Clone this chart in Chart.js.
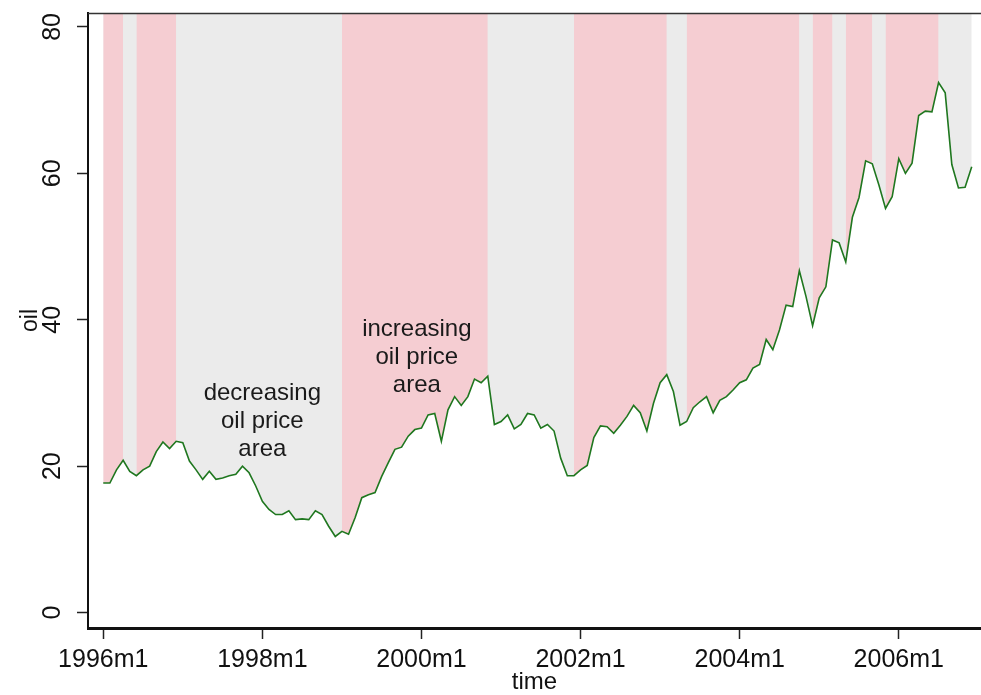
<!DOCTYPE html>
<html>
<head>
<meta charset="utf-8">
<script src="https://cdn.jsdelivr.net/npm/chart.js@4.4.0/dist/chart.umd.min.js"></script>
<style>body{margin:0;background:#fff}</style>
</head>
<body>
<canvas id="canv" width="981" height="695"></canvas>
<script>
// monthly oil price, 1996m1 .. 2006m12 (month index 0..131)
var oil = [
  17.7, 17.7, 19.5, 20.8, 19.3, 18.7, 19.5, 20.0, 22.0, 23.3, 22.4, 23.4,
  23.2, 20.7, 19.5, 18.2, 19.3, 18.2, 18.4, 18.7, 18.9, 20.0, 19.1, 17.3,
  15.2, 14.1, 13.4, 13.4, 13.9, 12.7, 12.8, 12.7, 13.9, 13.4, 11.8, 10.4,
  11.1, 10.7, 13.0, 15.7, 16.1, 16.4, 18.6, 20.5, 22.3, 22.6, 24.1, 25.0,
  25.2, 27.0, 27.2, 23.4, 27.7, 29.5, 28.3, 29.5, 31.9, 31.4, 32.3, 25.7,
  26.1, 27.0, 25.1, 25.7, 27.2, 27.0, 25.2, 25.7, 24.8, 21.1, 18.7, 18.7,
  19.5, 20.1, 23.9, 25.5, 25.4, 24.5, 25.6, 26.8, 28.3, 27.3, 24.8, 28.6,
  31.4, 32.5, 30.2, 25.6, 26.1, 28.0, 28.8, 29.5, 27.3, 29.0, 29.5, 30.4,
  31.4, 31.8, 33.4, 33.9, 37.3, 35.9, 38.6, 42.0, 41.8, 46.7, 43.2, 39.2,
  43.0, 44.5, 50.9, 50.5, 47.9, 54.0, 56.7, 61.7, 61.3, 58.4, 55.2, 56.8,
  62.0, 60.0, 61.4, 67.9, 68.5, 68.4, 72.4, 71.0, 61.2, 58.0, 58.1, 60.9
];
// month index spans of the "increasing oil price" areas (pink); the rest is grey
var increasingSpans = [[0,3],[5,11],[36,58],[71,85],[88,105],[107,110],[112,116],[118,126]];
var startYear = 1996;
var xTicks = [0, 24, 48, 72, 96, 120];
var yTicks = [0, 20, 40, 60, 80];
// text notes, placed at (month, value) of their middle line
var noteLines = [["decreasing", "oil price", "area"], ["increasing", "oil price", "area"]];
var noteMonth = [24, 47.3];
var noteValue = [26.1, 34.8];

var FONT = '"Liberation Sans", Arial, sans-serif';

function monthLabel(m){
  return (startYear + Math.floor(m / 12)) + "m" + (m % 12 + 1);
}

var oilPts = oil.map(function(v, i){ return {x: i, y: v}; });
var upPts = oil.map(function(v, i){
  var inside = increasingSpans.some(function(s){ return i >= s[0] && i <= s[1]; });
  return {x: i, y: inside ? v : null};
});

// top frame line + the two text notes
var extras = {
  id: 'extras',
  afterDatasetsDraw: function(chart){
    var ctx = chart.ctx, a = chart.chartArea;
    var sx = chart.scales.x, sy = chart.scales.y;
    ctx.save();
    ctx.strokeStyle = '#333';
    ctx.lineWidth = 1.5;
    ctx.beginPath();
    ctx.moveTo(a.left, a.top + 0.5);
    ctx.lineTo(a.right, a.top + 0.5);
    ctx.stroke();
    ctx.fillStyle = '#1a1a1a';
    ctx.font = '24px ' + FONT;
    ctx.textAlign = 'center';
    ctx.textBaseline = 'middle';
    for (var k = 0; k < noteLines.length; k++){
      var cx = sx.getPixelForValue(noteMonth[k]);
      var cy = sy.getPixelForValue(noteValue[k]);
      for (var j = 0; j < noteLines[k].length; j++){
        ctx.fillText(noteLines[k][j], cx, cy + (j - 1) * 28);
      }
    }
    ctx.restore();
  }
};

new Chart(document.getElementById('canv'), {
  type: 'line',
  data: {
    datasets: [
      {label: 'oil', data: oilPts, borderColor: '#1f771f', borderWidth: 1.6,
       pointRadius: 0, fill: false, tension: 0, order: 0},
      {label: 'increasing', data: upPts, borderColor: 'transparent', borderWidth: 0,
       backgroundColor: '#f5cdd2', pointRadius: 0, fill: 'end', spanGaps: false, order: 1},
      {label: 'decreasing', data: oilPts, borderColor: 'transparent', borderWidth: 0,
       backgroundColor: '#ebebeb', pointRadius: 0, fill: 'end', order: 2}
    ]
  },
  options: {
    responsive: false,
    animation: false,
    devicePixelRatio: 1,
    layout: {padding: {top: 13, left: 0, right: 0, bottom: 0}},
    plugins: {legend: {display: false}, tooltip: {enabled: false}},
    scales: {
      x: {
        type: 'linear', min: -2.3, max: 132.4,
        afterBuildTicks: function(s){ s.ticks = xTicks.map(function(v){ return {value: v}; }); },
        afterFit: function(s){ s.height = 67; s.paddingLeft = 0; s.paddingRight = 0; },
        ticks: {callback: function(v){ return monthLabel(v); }, color: '#111',
                font: {family: FONT, size: 25}, padding: 6, maxRotation: 0, autoSkip: false},
        grid: {drawOnChartArea: false, tickLength: 11, tickColor: '#222', tickWidth: 1.5},
        border: {color: '#111', width: 3},
        title: {display: true, text: 'time', color: '#111',
                font: {family: FONT, size: 24, lineHeight: 1}, padding: {top: 0, bottom: 1}}
      },
      y: {
        min: -2.1, max: 81.9,
        afterBuildTicks: function(s){ s.ticks = yTicks.map(function(v){ return {value: v}; }); },
        afterFit: function(s){ s.width = 88; s.paddingTop = 0; s.paddingBottom = 0; },
        ticks: {color: '#111', font: {family: FONT, size: 25}, padding: 10,
                minRotation: 90, maxRotation: 90, crossAlign: 'center'},
        grid: {drawOnChartArea: false, tickLength: 11, tickColor: '#222', tickWidth: 1.5},
        border: {color: '#111', width: 2},
        title: {display: true, text: 'oil', color: '#111',
                font: {family: FONT, size: 23}, padding: {top: 17, bottom: 0}}
      }
    }
  },
  plugins: [extras]
});
</script>
</body>
</html>
